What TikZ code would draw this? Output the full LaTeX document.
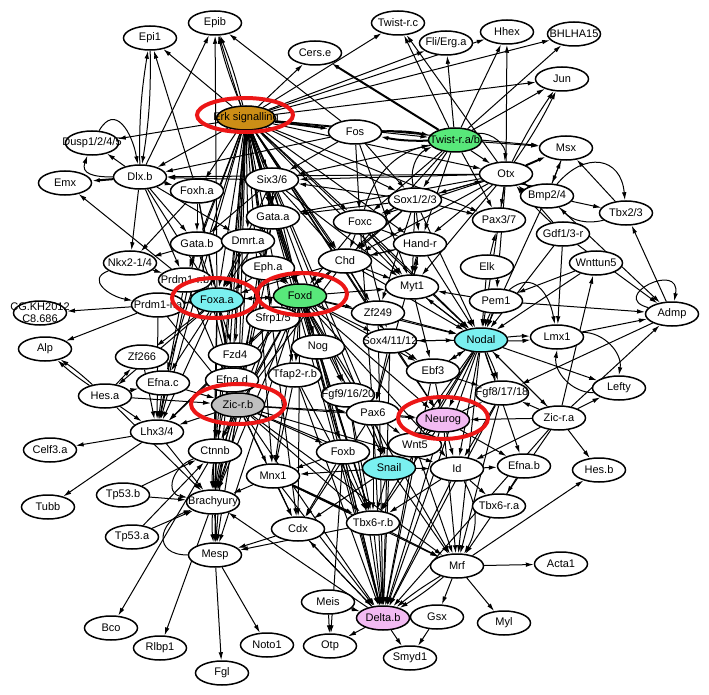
\documentclass[tikz,border=0pt]{standalone}
\usepackage{fontspec}
\setmainfont{Liberation Sans}
\usetikzlibrary{arrows.meta,shapes.geometric}
\pgfdeclarelayer{edges}
\pgfsetlayers{edges,main}
\begin{document}
\begin{tikzpicture}[x=1pt, y=-1pt]
            \definecolor{erk_color}{RGB}{204,142,22}
            \definecolor{green_color}{RGB}{88,232,122}
            \definecolor{cyan_color}{RGB}{122,240,240}
            \definecolor{grey_color}{RGB}{192,192,192}
            \definecolor{pink_color}{RGB}{242,186,242}
            \definecolor{ring_color}{RGB}{236,22,22}
            \tikzstyle{every node} = [draw, line width=1.5pt, fill=white, shape=ellipse, inner xsep=-12pt, inner ysep=-4pt, minimum width=53pt, minimum height=24pt, font=\fontsize{11}{12}\selectfont]
            \tikzstyle{link} = [line width=1pt, -{Latex[length=8pt, width=4.5pt]}]
            \tikzstyle{heavy} = [line width=2pt]
            \tikzstyle{ring} = [draw=ring_color, line width=4pt]
            \useasboundingbox (0,0) rectangle (709,695);
            \node (epi1) at (150,38) {Epi1};
            \node (epib) at (215,23) {Epib};
            \node[fill=erk_color] (erk) at (246,118) {Erk signalling};
            \node (dusp) at (92,143) {Dusp1/2/4/5};
            \node (dlxb) at (140,177) {Dlx.b};
            \node (emx) at (65,183) {Emx};
            \node (foxha) at (197,191) {Foxh.a};
            \node (cerse) at (315,53) {Cers.e};
            \node (twistrc) at (398,23) {Twist-r.c};
            \node (fli) at (446,43) {Fli/Erg.a};
            \node (hhex) at (507,32) {Hhex};
            \node (bhlha) at (574,34) {BHLHA15};
            \node (jun) at (562,79) {Jun};
            \node (fos) at (355,132) {Fos};
            \node[fill=green_color] (twist) at (455,140) {Twist-r.a/b};
            \node (msx) at (566,148) {Msx};
            \node (otx) at (506,174) {Otx};
            \node (bmp) at (547,196) {Bmp2/4};
            \node (tbx23) at (626,213) {Tbx2/3};
            \node (six) at (272,180) {Six3/6};
            \node (sox123) at (415,200) {Sox1/2/3};
            \node (gataa) at (273,217) {Gata.a};
            \node (foxc) at (360,222) {Foxc};
            \node (pax37) at (499,220) {Pax3/7};
            \node (gdf) at (563,234) {Gdf1/3-r};
            \node (gatab) at (197,244) {Gata.b};
            \node (dmrt) at (248,241) {Dmrt.a};
            \node (handr) at (420,244) {Hand-r};
            \node (chd) at (345,261) {Chd};
            \node (elk) at (487,267) {Elk};
            \node (wnttun) at (596,263) {Wnttun5};
            \node (nkx) at (130,263) {Nkx2-1/4};
            \node (epha) at (268,268) {Eph.a};
            \node (prdmb) at (185,280) {Prdm1-r.b};
            \node (myt1) at (412,287) {Myt1};
            \node (pem1) at (496,301) {Pem1};
            \node (prdma) at (158,305) {Prdm1-r.a};
            \node[align=center] (cg) at (40,313) {CG.KH2012\\C8.686};
            \node (zf249) at (378,313) {Zf249};
            \node (admp) at (672,314) {Admp};
            \node (sfrp) at (273,319) {Sfrp1/5};
            \node[fill=green_color] (foxd) at (300,296) {Foxd};
            \node[fill=cyan_color] (foxaa) at (217,300) {Foxa.a};
            \node (lmx1) at (557,337) {Lmx1};
            \node[fill=cyan_color] (nodal) at (481,340) {Nodal};
            \node (sox4) at (390,341) {Sox4/11/12};
            \node (nog) at (318,347) {Nog};
            \node (alp) at (45,349) {Alp};
            \node (zf266) at (142,357) {Zf266};
            \node (fzd4) at (235,355) {Fzd4};
            \node (tfap) at (295,375) {Tfap2-r.b};
            \node (ebf3) at (433,371) {Ebf3};
            \node (efnac) at (163,383) {Efna.c};
            \node (efnad) at (232,380) {Efna.d};
            \node (lefty) at (619,388) {Lefty};
            \node (fgf8) at (502,393) {Fgf8/17/18};
            \node (fgf9) at (348,395) {Fgf9/16/20};
            \node (hesa) at (105,396) {Hes.a};
            \node[fill=grey_color] (zicrb) at (238,405) {Zic-r.b};
            \node (pax6) at (373,413) {Pax6};
            \node[fill=pink_color] (neurog) at (443,420) {Neurog};
            \node (zicra) at (559,418) {Zic-r.a};
            \node (lhx) at (157,432) {Lhx3/4};
            \node (wnt5) at (415,445) {Wnt5};
            \node (celf) at (50,450) {Celf3.a};
            \node (ctnnb) at (215,451) {Ctnnb};
            \node (foxb) at (343,452) {Foxb};
            \node[fill=cyan_color] (snail) at (389,468) {Snail};
            \node (id) at (457,469) {Id};
            \node (efnab) at (524,466) {Efna.b};
            \node (hesb) at (599,470) {Hes.b};
            \node (mnx1) at (273,476) {Mnx1};
            \node (tp53b) at (123,495) {Tp53.b};
            \node (brachy) at (213,502) {Brachyury};
            \node (tubb) at (48,507) {Tubb};
            \node (tbx6a) at (499,506) {Tbx6-r.a};
            \node (tbx6b) at (373,523) {Tbx6-r.b};
            \node (cdx) at (298,529) {Cdx};
            \node (tp53a) at (132,537) {Tp53.a};
            \node (mesp) at (215,555) {Mesp};
            \node (mrf) at (457,566) {Mrf};
            \node (acta) at (561,564) {Acta1};
            \node (meis) at (328,602) {Meis};
            \node[fill=pink_color] (deltab) at (383,618) {Delta.b};
            \node (gsx) at (437,617) {Gsx};
            \node (myl) at (504,623) {Myl};
            \node (bco) at (111,628) {Bco};
            \node (noto) at (267,645) {Noto1};
            \node (otp) at (330,646) {Otp};
            \node (rlbp) at (160,648) {Rlbp1};
            \node (smyd) at (410,658) {Smyd1};
            \node (fgl) at (222,673) {Fgl};
            \begin{pgfonlayer}{edges}
            \draw[link] (erk) edge (epi1) edge[bend left=4] (epib) edge[bend right=4] (epib) edge (dusp) edge (cerse) edge (twistrc) edge (fli) edge (hhex) edge (bhlha) edge (jun) edge (msx) edge[heavy] (fos) edge (twist) edge (otx)
                edge (six) edge (gataa) edge (foxc) edge (sox123) edge (dmrt) edge (epha) edge (chd) edge (foxd) edge (foxaa) edge (gatab) edge (foxha) edge (prdmb) edge (sfrp) edge (fzd4) edge (efnad) edge (zicrb) edge (ctnnb) edge (brachy) edge (mnx1)
                edge (nog) edge (tfap) edge (myt1) edge (handr) edge (zf249) edge (sox4) edge (fgf9) edge (pax6) edge (foxb) edge (tbx6b) edge (snail) edge (neurog) edge (nodal) edge (lhx) edge (mesp) edge (cdx) edge (deltab) edge (pax37) edge (efnac) edge (dlxb);
            \draw[link] (twist) edge[heavy] (cerse) edge (twistrc) edge (fli) edge (hhex) edge (bhlha) edge (jun) edge (msx) edge[bend left=50] (otx) edge (otx) edge[heavy, bend left=6] (fos) edge (sox123) edge (foxc) edge (handr) edge (six) edge (chd) edge (pax37);
            \draw[link] (fos) edge[heavy, bend left=6] (twist) edge (epib) edge (sox123) edge (foxc) edge (dlxb) edge (six) edge (myt1);
            \draw[link] (otx) edge (hhex) edge[bend left=4] (jun) edge[bend right=4] (jun) edge[heavy] (msx) edge (pax37) edge (bmp) edge (nodal) edge (myt1) edge (sox123) edge (foxc) edge (six) edge (dlxb) edge (chd) edge (handr) edge (pem1) edge (twistrc) edge (gataa);
            \draw[link] (sox123) edge (pax37) edge (otx) edge (foxc) edge (handr) edge (myt1) edge[bend left=40] (twist) edge (six) edge (chd) edge (foxd) edge (nodal) edge (zf249) edge (gataa);
            \draw[link] (foxc) edge (chd) edge (myt1) edge (sox4) edge[bend left=30] (twist) edge (handr) edge (foxd) edge (nodal) edge (pax6);
            \draw[link] (six) edge (dlxb) edge (gataa) edge (foxd) edge (foxaa) edge (zicrb) edge (chd) edge (myt1) edge (gatab);
            \draw[link] (gataa) edge (foxd) edge (foxaa) edge (zicrb) edge (brachy) edge (dmrt);
            \draw[link] (gatab) edge (nkx) edge (prdmb) edge (foxaa) edge (zicrb) edge (lhx);
            \draw[link] (dmrt) edge (foxaa) edge (foxd) edge (zicrb);
            \draw[link] (epha) edge (foxd) edge (zicrb) edge (foxaa);
            \draw[link] (foxha) edge (epi1) edge (gatab) edge (foxaa) edge (zicrb) edge (nkx);
            \draw[link] (dlxb) edge[bend left=5] (epi1) edge (epib) edge[heavy] (emx) edge (dusp) edge[out=180, in=250, looseness=1.5] (dusp) edge (gatab) edge (foxaa) edge (dmrt) edge (prdmb) edge (foxha) edge (nkx);
            \draw[link] (epi1) edge[bend left=5] (dlxb);
            \draw[link] (dusp) edge[out=60, in=100, looseness=1.6] (dlxb);
            \draw[link] (nkx) edge (prdmb) edge[out=200, in=170, looseness=1.6] (prdma);
            \draw[link] (prdmb) edge (emx) edge (foxaa) edge (zicrb) edge (lhx);
            \draw[link] (prdma) edge (cg) edge (alp) edge (foxaa) edge (zicrb) edge (lhx);
            \draw[link] (foxaa) edge (prdma) edge (prdmb) edge (zf266) edge (efnac) edge (lhx) edge (brachy) edge (ctnnb) edge (zicrb) edge (efnad) edge (fzd4) edge (mesp) edge (foxd) edge (hesa) edge (epib);
            \draw[link] (foxd) edge (foxaa) edge (zicrb) edge (brachy) edge (ctnnb) edge (mnx1) edge (lhx) edge (mesp) edge (cdx) edge (tbx6b) edge (deltab) edge (snail) edge (foxb) edge (pax6) edge (nodal) edge (myt1) edge (chd) edge (zf249)
                edge (neurog) edge (fgf9) edge (sox4) edge (efnad) edge (fzd4) edge (tfap) edge (nog) edge (sfrp) edge (id) edge (mrf) edge (ebf3) edge (epib);
            \draw[link] (chd) edge (myt1) edge (sox4) edge (foxd) edge (zicrb) edge (nodal) edge (foxaa) edge (handr);
            \draw[link] (handr) edge (myt1) edge (chd) edge (nodal) edge (pax6);
            \draw[link] (myt1) edge (nodal) edge (handr) edge (ebf3);
            \draw[link] (elk) edge (pax37) edge (nodal);
            \draw[link] (pem1) edge (admp) edge[bend left=4] (nodal) edge[bend right=4] (nodal) edge[out=40, in=100, looseness=1.4] (lmx1) edge (myt1);
            \draw[link] (gdf) edge (lmx1) edge[bend left=3] (otx) edge[bend right=3] (otx) edge (admp) edge (nodal);
            \draw[link] (wnttun) edge (nodal) edge (pem1);
            \draw[link] (bmp) edge (msx) edge (tbx23) edge[out=50, in=95, looseness=1.6] (tbx23) edge (otx) edge (nodal) edge (admp);
            \draw[link] (msx) edge (bmp);
            \draw[link] (tbx23) edge (msx) edge[bend left=30] (bmp);
            \draw[link] (admp) edge (tbx23) edge (fgf8) edge[out=165, in=80, looseness=4] (admp);
            \draw[link] (lmx1) edge[bend left=50] (lefty) edge (admp);
            \draw[link] (lefty) edge[bend left=50] (lmx1);
            \draw[link] (nodal) edge[bend left=4] (lmx1) edge[bend right=4] (lmx1) edge (lefty) edge[bend left=4] (fgf8) edge[bend right=4] (fgf8) edge (deltab) edge (zicra) edge (neurog) edge (wnt5) edge (id) edge (snail) edge (tbx6b) edge (ebf3) edge (sox4) edge (efnab) edge (mrf) edge (myt1);
            \draw[link] (zicra) edge (hesb) edge (lefty) edge (admp) edge (wnttun) edge (nodal) edge (fgf8) edge (mrf) edge (id) edge (neurog) edge (deltab);
            \draw[link] (ebf3) edge (neurog) edge (fgf8) edge (nodal) edge (deltab);
            \draw[link] (fgf8) edge (deltab) edge (mrf) edge (id);
            \draw[link] (sox4) edge (nodal) edge (ebf3) edge (pax6) edge (neurog) edge (deltab);
            \draw[link] (zf249) edge (deltab) edge (nodal);
            \draw[link] (nog) edge (deltab) edge (tbx6b);
            \draw[link] (sfrp) edge (zicrb) edge (brachy);
            \draw[link] (fzd4) edge (zicrb) edge (lhx) edge (ctnnb);
            \draw[link] (efnad) edge (zicrb);
            \draw[link] (tfap) edge (deltab) edge (tbx6b) edge (mnx1);
            \draw[link] (fgf9) edge (deltab) edge (tbx6b) edge (pax6);
            \draw[link] (pax6) edge (neurog) edge (deltab) edge (tbx6b) edge (snail) edge (cdx) edge (wnt5);
            \draw[link] (neurog) edge (deltab) edge (wnt5) edge (id) edge (snail) edge (tbx6b) edge (mrf) edge (efnab) edge (fgf8);
            \draw[link] (wnt5) edge (deltab) edge (mrf);
            \draw[link] (foxb) edge (deltab) edge (tbx6b) edge (cdx) edge (mnx1) edge (snail) edge (otp);
            \draw[link] (snail) edge (tbx6b) edge (deltab) edge (mrf) edge (cdx) edge (mnx1) edge (id);
            \draw[link] (id) edge (efnab) edge (tbx6a) edge (deltab) edge[bend left=30] (mrf) edge (tbx6b);
            \draw[link] (efnab) edge (tbx6a);
            \draw[link] (zicrb) edge[bend left=6] (brachy) edge (brachy) edge[bend right=6] (brachy) edge (mesp) edge (ctnnb) edge (lhx) edge (mnx1) edge (cdx) edge (tbx6b) edge (deltab) edge (snail) edge (foxb) edge (pax6) edge (mrf) edge (id) edge (neurog);
            \draw[link] (hesa) edge[bend left=4] (alp) edge[bend right=4] (alp) edge (zicrb) edge (zf266) edge (lhx) edge (brachy) edge (efnac);
            \draw[link] (zf266) edge (lhx);
            \draw[link] (efnac) edge (lhx) edge (zicrb);
            \draw[link] (lhx) edge (celf) edge (tubb) edge (brachy);
            \draw[link] (ctnnb) edge[bend left=5] (brachy) edge[bend right=5] (brachy) edge[out=200, in=170, looseness=1.5] (brachy) edge (bco) edge (mesp);
            \draw[link] (tp53b) edge (brachy) edge (ctnnb);
            \draw[link] (tp53a) edge (brachy) edge (ctnnb);
            \draw[link] (brachy) edge (rlbp) edge[bend left=5] (mesp) edge[bend right=5] (mesp);
            \draw[link] (mesp) edge (fgl) edge (noto) edge[out=180, in=200, looseness=2] (brachy);
            \draw[link] (mnx1) edge (brachy) edge (cdx) edge[heavy] (tbx6b) edge (deltab) edge (mrf);
            \draw[link] (cdx) edge (mesp) edge (deltab);
            \draw[link] (tbx6b) edge (deltab) edge (mrf) edge (mesp);
            \draw[link] (deltab) edge (cdx) edge (brachy) edge (otp) edge (smyd) edge (gsx);
            \draw[link] (meis) edge (otp) edge (deltab);
            \draw[link] (gsx) edge (smyd);
            \draw[link] (mrf) edge (acta) edge (myl) edge (hesb) edge[bend left=4] (deltab) edge[bend right=4] (deltab) edge (gsx);
            \end{pgfonlayer}
            \draw[ring] (245,115) ellipse [x radius=48pt, y radius=17pt];
            \draw[ring] (215,298) ellipse [x radius=43pt, y radius=20pt];
            \draw[ring] (302,294) ellipse [x radius=45pt, y radius=21pt];
            \draw[ring] (238,404) ellipse [x radius=47pt, y radius=20pt];
            \draw[ring] (443,418) ellipse [x radius=45pt, y radius=21pt];
\end{tikzpicture}
\end{document}
